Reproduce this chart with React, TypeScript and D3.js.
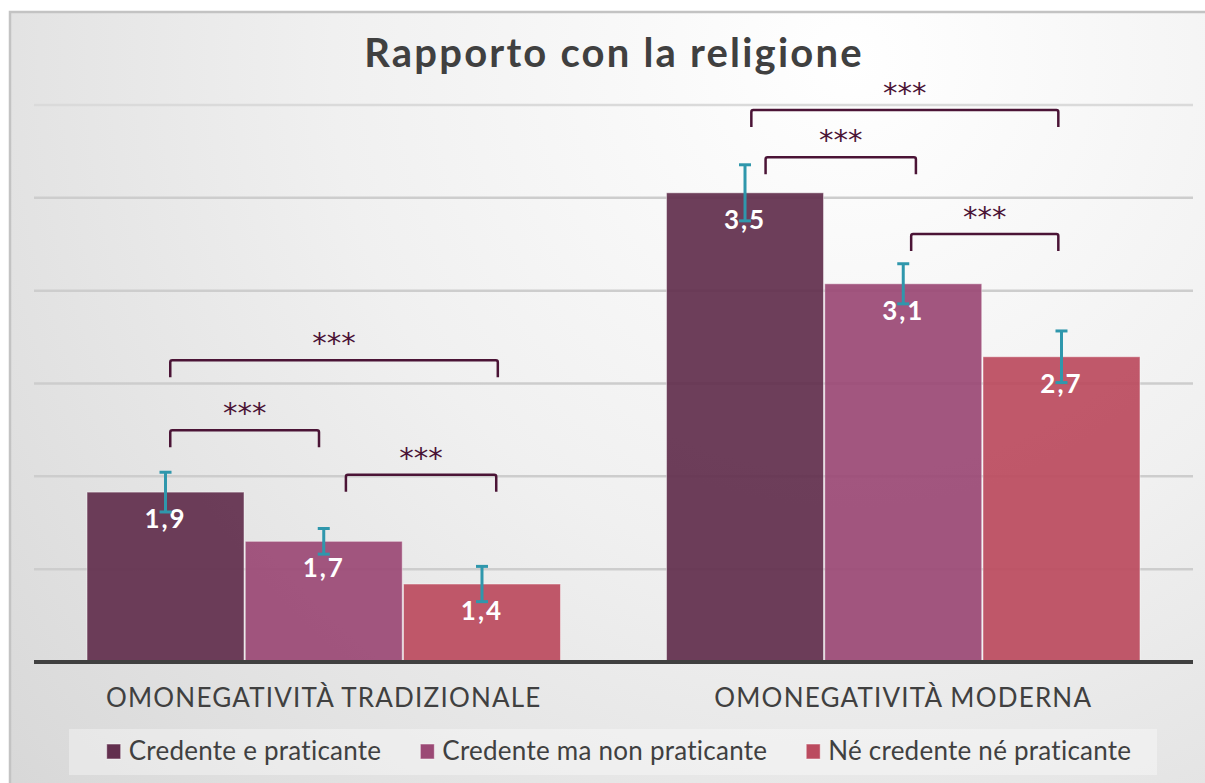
import React, { useRef, useEffect } from 'react';
import * as d3 from 'd3';

const categories = ['OMONEGATIVITÀ TRADIZIONALE', 'OMONEGATIVITÀ MODERNA'];
const seriesNames = ['Credente e praticante', 'Credente ma non praticante', 'Né credente né praticante'];
const credentePraticante = [1.915, 3.527];
const credenteNonPraticante = [1.65, 3.037];
const nessuno = [1.42, 2.644];
const errCredentePraticante = [0.107, 0.151];
const errCredenteNonPraticante = [0.069, 0.108];
const errNessuno = [0.095, 0.139];
const valueLabels = [['1,9', '3,5'], ['1,7', '3,1'], ['1,4', '2,7']];
const yTicks = [1, 1.5, 2, 2.5, 3, 3.5, 4];

// significance brackets: group index, from/to in series positions, level in value units
const bracketGroups = [0, 0, 0, 1, 1, 1];
const bracketFrom = [0.03, 0.03, 1.14, 0.04, 0.13, 1.05];
const bracketTo = [2.1, 0.97, 2.09, 1.98, 1.08, 1.98];
const bracketLevel = [2.625, 2.248, 2.009, 3.973, 3.718, 3.305];
const bracketLabel = ['***', '***', '***', '***', '***', '***'];

const colors = ['#622f4e', '#9b4975', '#bb4b5f'];

const App = () => {
    const svgRef = useRef<SVGSVGElement>(null);

    useEffect(() => {
        const width = 1205;
        const height = 783;
        const font = 'Lato, "Open Sans", sans-serif';
        const values = [credentePraticante, credenteNonPraticante, nessuno];
        const errors = [errCredentePraticante, errCredenteNonPraticante, errNessuno];

        const svg = d3.select(svgRef.current)
            .attr('width', width)
            .attr('height', height);
        svg.selectAll('*').remove();

        // sfondo sfumato
        const defs = svg.append('defs');
        const grad = defs.append('radialGradient')
            .attr('id', 'bg')
            .attr('gradientUnits', 'userSpaceOnUse')
            .attr('cx', 850).attr('cy', 60).attr('r', 1150);
        grad.append('stop').attr('offset', '0%').attr('stop-color', '#ffffff');
        grad.append('stop').attr('offset', '45%').attr('stop-color', '#f0f0f0');
        grad.append('stop').attr('offset', '100%').attr('stop-color', '#d6d6d6');

        svg.append('rect')
            .attr('x', 10).attr('y', 12)
            .attr('width', width).attr('height', height)
            .attr('fill', 'url(#bg)')
            .attr('stroke', '#c3c3c3')
            .attr('stroke-width', 2.5);

        const plotLeft = 34;
        const plotRight = 1193;

        const x0 = d3.scaleBand<string>()
            .domain(categories)
            .range([plotLeft, plotRight]);

        const inner = x0.bandwidth() * 0.0915;
        const x1 = d3.scaleBand<number>()
            .domain(d3.range(seriesNames.length))
            .range([inner, x0.bandwidth() - inner])
            .paddingInner(0.008);

        const y = d3.scaleLinear()
            .domain([1, 4])
            .range([662, 105]);

        const step = x1.step();
        const seriesPos = (g: number, p: number) =>
            (x0(categories[g]) as number) + (x1(0) as number) + x1.bandwidth() / 2 + p * step;

        // griglia
        svg.append('g')
            .selectAll('line')
            .data(yTicks.slice(1))
            .enter()
            .append('line')
            .attr('x1', plotLeft)
            .attr('x2', plotRight)
            .attr('y1', d => y(d))
            .attr('y2', d => y(d))
            .attr('stroke', d => (d === 4 ? '#dadada' : '#cdcdcd'))
            .attr('stroke-width', 2.5);

        // barre
        const groups = svg.append('g')
            .selectAll('g')
            .data(categories)
            .enter()
            .append('g')
            .attr('transform', d => `translate(${x0(d)},0)`);

        groups.selectAll('rect')
            .data((_, gi) => values.map((s, si) => ({ si, v: s[gi] })))
            .enter()
            .append('rect')
            .attr('x', d => x1(d.si) as number)
            .attr('y', d => y(d.v))
            .attr('width', x1.bandwidth())
            .attr('height', d => y(1) - y(d.v))
            .attr('fill', d => colors[d.si])
            .attr('fill-opacity', 0.93)
            .attr('stroke', 'rgba(255,255,255,0.45)')
            .attr('stroke-width', 1);

        // etichette valori
        groups.selectAll('text.val')
            .data((_, gi) => values.map((s, si) => ({ si, v: s[gi], label: valueLabels[si][gi] })))
            .enter()
            .append('text')
            .attr('class', 'val')
            .attr('x', d => (x1(d.si) as number) + x1.bandwidth() / 2)
            .attr('y', d => y(d.v) + 36)
            .attr('text-anchor', 'middle')
            .attr('fill', '#ffffff')
            .attr('font-family', font)
            .attr('font-weight', 'bold')
            .attr('font-size', 26)
            .attr('letter-spacing', 2)
            .text(d => d.label);

        // barre d'errore
        const eb = groups.selectAll('g.err')
            .data((_, gi) => values.map((s, si) => ({ si, v: s[gi], e: errors[si][gi] })))
            .enter()
            .append('g')
            .attr('class', 'err')
            .attr('stroke', '#2f97ac')
            .attr('stroke-width', 3);
        const cx = (d: { si: number }) => (x1(d.si) as number) + x1.bandwidth() / 2;
        eb.append('line')
            .attr('x1', cx).attr('x2', cx)
            .attr('y1', d => y(d.v + d.e)).attr('y2', d => y(d.v - d.e));
        eb.append('line')
            .attr('x1', d => cx(d) - 6).attr('x2', d => cx(d) + 6)
            .attr('y1', d => y(d.v + d.e)).attr('y2', d => y(d.v + d.e));
        eb.append('line')
            .attr('x1', d => cx(d) - 6).attr('x2', d => cx(d) + 6)
            .attr('y1', d => y(d.v - d.e)).attr('y2', d => y(d.v - d.e));

        // asse
        svg.append('line')
            .attr('x1', plotLeft).attr('x2', plotRight)
            .attr('y1', y(1)).attr('y2', y(1))
            .attr('stroke', '#404040')
            .attr('stroke-width', 4);

        // parentesi di significatività
        const tick = 17;
        const br = svg.append('g');
        bracketGroups.forEach((g, i) => {
            const xa = seriesPos(g, bracketFrom[i]);
            const xb = seriesPos(g, bracketTo[i]);
            const yy = y(bracketLevel[i]);
            br.append('path')
                .attr('d', `M${xa},${yy + tick} L${xa},${yy + 2} Q${xa},${yy} ${xa + 2},${yy} L${xb - 2},${yy} Q${xb},${yy} ${xb},${yy + 2} L${xb},${yy + tick}`)
                .attr('fill', 'none')
                .attr('stroke', '#4b1436')
                .attr('stroke-width', 2.5);
            br.append('text')
                .attr('x', (xa + xb) / 2)
                .attr('y', yy - 7)
                .attr('text-anchor', 'middle')
                .attr('fill', '#4b1436')
                .attr('font-family', '"DejaVu Sans", sans-serif')
                .attr('font-size', 29)
                .text(bracketLabel[i]);
        });

        // categorie
        svg.append('g')
            .selectAll('text')
            .data(categories)
            .enter()
            .append('text')
            .attr('x', d => (x0(d) as number) + x0.bandwidth() / 2)
            .attr('y', 707)
            .attr('text-anchor', 'middle')
            .attr('fill', '#404040')
            .attr('font-family', font)
            .attr('font-size', 26)
            .attr('letter-spacing', 1.2)
            .text(d => d);

        // titolo
        svg.append('text')
            .attr('x', 614)
            .attr('y', 67)
            .attr('text-anchor', 'middle')
            .attr('fill', '#404040')
            .attr('font-family', font)
            .attr('font-weight', 'bold')
            .attr('font-size', 40)
            .attr('letter-spacing', 2.2)
            .text('Rapporto con la religione');

        // legenda
        svg.append('rect')
            .attr('x', 69).attr('y', 729)
            .attr('width', 1088).attr('height', 46)
            .attr('fill', 'rgba(255,255,255,0.35)');

        const legend = svg.append('g');
        const items = legend.selectAll('g')
            .data(seriesNames)
            .enter()
            .append('g');
        items.append('rect')
            .attr('width', 14).attr('height', 15)
            .attr('y', 744)
            .attr('fill', (_, i) => colors[i])
            .attr('stroke', 'rgba(255,255,255,0.5)')
            .attr('stroke-width', 1);
        const texts = items.append('text')
            .attr('x', 22)
            .attr('y', 760)
            .attr('fill', '#404040')
            .attr('font-family', font)
            .attr('font-size', 26)
            .attr('letter-spacing', 0.25)
            .text(d => d);
        let cursor = 0;
        const offsets: number[] = [];
        texts.each(function () {
            offsets.push(cursor);
            cursor += 22 + (this as SVGTextElement).getComputedTextLength() + 39;
        });
        const total = cursor - 39;
        const start = 619 - total / 2;
        items.attr('transform', (_, i) => `translate(${start + offsets[i]},0)`);
    }, []);

    return (
        <>
            <style>{'body{margin:0}'}</style>
            <svg ref={svgRef} style={{ display: 'block' }}></svg>
        </>
    );
};

export default App;
